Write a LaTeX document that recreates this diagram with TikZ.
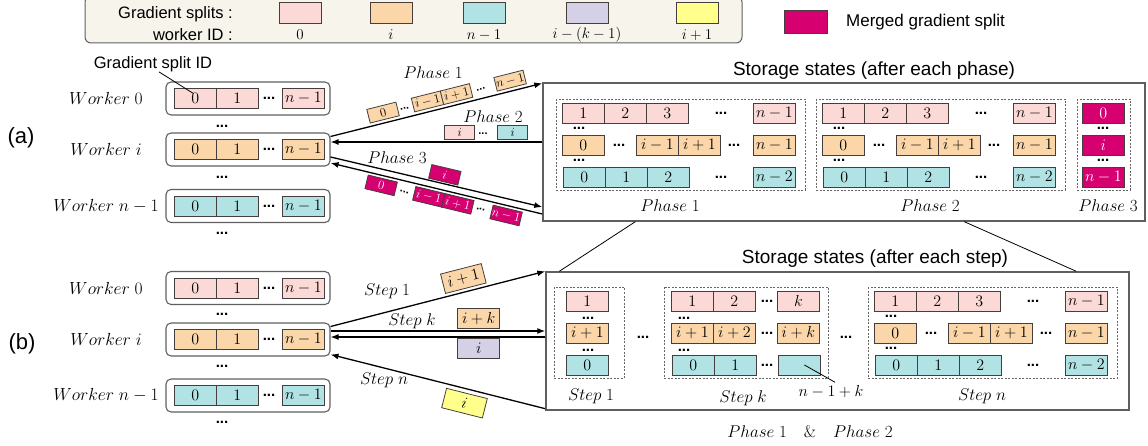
\RequirePackage{fix-cm}
\documentclass[tikz,border=0pt]{standalone}
\usepackage{fontspec}
\newfontfamily\sans{Liberation Sans}
\usetikzlibrary{arrows.meta}

\definecolor{pinkc}{RGB}{250,217,214}
\definecolor{orangec}{RGB}{250,214,168}
\definecolor{cyanc}{RGB}{177,227,229}
\definecolor{lavc}{RGB}{212,209,230}
\definecolor{yellowc}{RGB}{255,255,140}
\definecolor{magc}{RGB}{214,0,112}
\definecolor{legc}{RGB}{247,244,236}
\definecolor{bordc}{RGB}{70,62,60}
\definecolor{boxc}{RGB}{95,95,95}

\newcommand\fsz[1]{\fontsize{#1}{#1}\selectfont}

\tikzset{
  cell/.style={draw=bordc, line width=0.8pt, fill=#1, minimum width=42pt,
    minimum height=20pt, inner sep=0pt, anchor=west, font=\fsz{16}},
  sbit/.style={draw=bordc, line width=0.8pt, fill=#1, minimum width=30pt,
    minimum height=14pt, inner sep=0pt, font=\fsz{12.5}},
  mbit/.style={sbit=magc, text=white},
  wbox/.style={draw=boxc, line width=1.1pt, rounded corners=5pt,
    minimum width=164pt, minimum height=33pt},
  sbox/.style={draw=boxc, line width=1.4pt, minimum height=138pt},
  grp/.style={draw=black!60, line width=0.7pt, dash pattern=on 2pt off 1.5pt},
  dts/.style={font=\sans\bfseries\fsz{#1}, inner sep=0pt},
  dts/.default=15,
  lbl/.style={font=\fsz{17}},
  sf/.style={font=\sans\fsz{#1}, inner sep=0pt},
  arr/.style={line width=1.3pt, -{Latex[length=8pt,width=6pt]}},
  pointer/.style={line width=0.8pt},
}

% one storage state: x offset, y offset, name
\newcommand\fullstate[3]{%
  \draw[grp] (556+#1,99+#2) rectangle (805+#1,190+#2);
  \foreach \x/\tx [count=\i] in {562/1,604/2,646/3,753/n-1}
    \node[cell=pinkc] (#3p\i) at (\x+#1,113+#2) {$\tx$};
  \foreach \x/\tx [count=\i] in {562/0,636/i-1,678/i+1,753/n-1}
    \node[cell=orangec] (#3o\i) at (\x+#1,145+#2) {$\tx$};
  \foreach \x/\tx [count=\i] in {563/0,605/1,647/2,753/n-2}
    \node[cell=cyanc] (#3c\i) at (\x+#1,177+#2) {$\tx$};
  \foreach \x/\y [count=\i] in {721/113,619/145,734/145,721/177,579/128,579/160}
    \node[dts] (#3d\i) at (\x+#1,\y+#2) {...};
}

\begin{document}
\begin{tikzpicture}[x=1pt, y=-1pt]
\useasboundingbox (0,0) rectangle (1148,446);

% legend
\node[draw=boxc, fill=legc, line width=1pt, rounded corners=6pt,
  minimum width=657pt, minimum height=47pt] (leg) at (413.5,19.5) {};
\node[sf=16.5, anchor=east] (leg1) at (233,14) {Gradient splits :};
\node[sf=16.5, anchor=east] (leg2) at (233,35) {worker ID :};
\foreach \x/\cl/\tx [count=\i] in {300/pinkc/0, 391/orangec/i, 484/cyanc/n-1,
    587/lavc/i-(k-1), 697/yellowc/i+1} {
  \node[draw=bordc, fill=\cl, line width=0.8pt, minimum width=42pt,
    minimum height=21pt, inner sep=0pt] (sw\i) at (\x,13) {};
  \node[font=\fsz{15}] (swl\i) at (\x,35) {$\tx$};
}
\node[draw=bordc, fill=magc, line width=0.8pt, minimum width=43pt,
  minimum height=23pt, inner sep=0pt] (msw) at (806,21.5) {};
\node[sf=17, anchor=west] (mtxt) at (846,22) {Merged gradient split};

% (a) workers
\node[sf=22] (la) at (21,138) {(a)};
\foreach \y/\cl/\n/\w in {98.5/pinkc/0/0, 149.5/orangec/i/i, 206/cyanc/n/n-1} {
  \node[wbox] (wa\n) at (248,\y) {};
  \node[cell=\cl] (wa\n-0) at (174,\y) {$0$};
  \node[cell=\cl] (wa\n-1) at (216,\y) {$1$};
  \node[dts] (wa\n-d) at (269,\y) {...};
  \node[cell=\cl] (wa\n-l) at (282,\y) {$n-1$};
  \node[lbl, font=\fsz{17.5}] (wa\n-t) at (106,\y) {$Worker\;\w$};
}
\foreach \y [count=\i] in {126,177,233}
  \node[dts] (wad\i) at (222,\y) {...};
\node[sf=16.5] (gsid) at (153,64) {Gradient split ID};
\draw[pointer] ([xshift=6pt]gsid.south) -- ([xshift=-2pt,yshift=5pt]wa0-0.center);

% (b) workers
\node[sf=22] (lb) at (22,344) {(b)};
\foreach \y/\cl/\n/\w in {288/pinkc/0/0, 339.5/orangec/i/i, 395.5/cyanc/n/n-1} {
  \node[wbox] (wb\n) at (248,\y) {};
  \node[cell=\cl] (wb\n-0) at (174,\y) {$0$};
  \node[cell=\cl] (wb\n-1) at (216,\y) {$1$};
  \node[dts] (wb\n-d) at (269,\y) {...};
  \node[cell=\cl] (wb\n-l) at (282,\y) {$n-1$};
  \node[lbl, font=\fsz{17.5}] (wb\n-t) at (106,\y) {$Worker\;\w$};
}
\foreach \y [count=\i] in {314,366,422}
  \node[dts] (wbd\i) at (222,\y) {...};

% storage after each phase
\node[sbox, minimum width=602pt] (sa) at (844,152) {};
\node[sf=19] (sat) at (874,71) {Storage states (after each phase)};
\fullstate{0}{0}{sa1}
\fullstate{260}{0}{sa2}
\node[lbl] (sa1l) at (670,206) {$Phase\;1$};
\node[lbl] (sa2l) at (930,206) {$Phase\;2$};
\draw[grp] (1077,99) rectangle (1130,190);
\foreach \y/\tx [count=\i] in {113/0,145/i,177/n-1}
  \node[cell=magc, text=white] (sa3m\i) at (1082,\y) {$\tx$};
\node[dts] (sa3d1) at (1103,128) {...};
\node[dts] (sa3d2) at (1103,160) {...};
\node[lbl] (sa3l) at (1108,206) {$Phase\;3$};

% storage after each step
\node[sbox, minimum width=583pt] (sb) at (837.5,341) {};
\node[sf=19] (sbt) at (875,259) {Storage states (after each step)};
\draw[grp] (554,287) rectangle (624,378);
\node[cell=pinkc] (sb1p) at (566,301) {$1$};
\node[cell=orangec] (sb1o) at (566,333) {$i+1$};
\node[cell=cyanc] (sb1c) at (566,365) {$0$};
\node[dts] (sb1d1) at (588,318) {...};
\node[dts] (sb1d2) at (588,350) {...};
\node[lbl] (sb1l) at (591,396) {$Step\;1$};
\node[dts] (sbg1) at (643,337) {...};
\draw[grp] (664,287) rectangle (828,378);
\foreach \x/\tx [count=\i] in {671/1,713/2,777/k}
  \node[cell=pinkc] (sbkp\i) at (\x,301) {$\tx$};
\foreach \x/\tx [count=\i] in {671/i+1,713/i+2,777/i+k}
  \node[cell=orangec] (sbko\i) at (\x,333) {$\tx$};
\node[cell=cyanc] (sbkc1) at (672,365) {$0$};
\node[cell=cyanc] (sbkc2) at (714,365) {$1$};
\node[cell=cyanc] (sbkc3) at (778,365) {};
\foreach \y [count=\i] in {301,333,365}
  \node[dts] (sbkd\i) at (767,\y) {...};
\node[dts] (sbkd4) at (684,318) {...};
\node[dts] (sbkd5) at (684,350) {...};
\node[lbl] (sbkl) at (743,398) {$Step\;k$};
\node[font=\fsz{16}] (nk) at (831,392) {$n-1+k$};
\draw[pointer] ([xshift=5pt]sbkc3.center) -- ([xshift=4pt]nk.north);
\node[dts] (sbg2) at (846,337) {...};
\fullstate{312}{188}{sbn}
\node[lbl] (sbnl) at (982,396) {$Step\;n$};
\node[lbl] (pp) at (810,432) {$Phase\;1\quad\&\quad Phase\;2$};

% zoom lines
\draw[pointer] ([xshift=93pt]sa.south west) -- ([xshift=14pt]sb.north west);
\draw[pointer] ([xshift=422pt]sa.south west) -- ([xshift=531pt]sb.north west);

% phase arrows
\coordinate (p1a) at ([yshift=13pt]wai.east);
\coordinate (p1b) at ([yshift=-1pt]sa.north west);
\draw[arr] (p1a) -- (p1b);
\path (p1a) -- (p1b)
  node[sbit=orangec, pos=.26, sloped, above=3pt] (p1x1) {$0$}
  node[dts=11, pos=.36, sloped, above=8pt] (p1x2) {...}
  node[sbit=orangec, pos=.47, sloped, above=3pt] (p1x3) {$i-1$}
  node[sbit=orangec, pos=.607, sloped, above=3pt] (p1x4) {$i+1$}
  node[dts=11, pos=.72, sloped, above=8pt] (p1x5) {...}
  node[sbit=orangec, pos=.86, sloped, above=3pt] (p1x6) {$n-1$};
\node[lbl] (p1l) at (433,73) {$Phase\;1$};

\coordinate (p2a) at ([yshift=10pt]sa.west);
\coordinate (p2b) at ([yshift=7.5pt]wai.east);
\draw[arr] (p2a) -- (p2b);
\path (p2b) -- (p2a)
  node[sbit=pinkc, pos=.61, above=2pt] (p2x1) {$i$}
  node[dts=11, pos=.72, above=7pt] (p2x2) {...}
  node[sbit=cyanc, pos=.86, above=2pt] (p2x3) {$i$};
\node[lbl] (p2l) at (493,117) {$Phase\;2$};

\coordinate (p3a) at ([yshift=-7.5pt]wai.east);
\coordinate (p3b) at ([yshift=-55pt]sa.west);
\coordinate (p3c) at ([yshift=-62pt]sa.west);
\coordinate (p3d) at ([yshift=-13.5pt]wai.east);
\draw[arr] (p3a) -- (p3b);
\draw[arr] (p3c) -- (p3d);
\path (p3a) -- (p3b)
  node[mbit, pos=.53, sloped, above=1.5pt] (p3x0) {$i$};
\path (p3d) -- (p3c)
  node[mbit, pos=.25, sloped, below=2.5pt] (p3x1) {$0$}
  node[dts=11, pos=.36, sloped, below=10pt] (p3x2) {...}
  node[mbit, pos=.475, sloped, below=2.5pt] (p3x3) {$i-1$}
  node[mbit, pos=.612, sloped, below=2.5pt] (p3x4) {$i+1$}
  node[dts=11, pos=.72, sloped, below=9pt] (p3x5) {...}
  node[mbit, pos=.84, sloped, below=2.5pt] (p3x6) {$n-1$};
\node[lbl] (p3l) at (397,158) {$Phase\;3$};

% step arrows
\coordinate (s1a) at ([yshift=13pt]wbi.east);
\coordinate (s1b) at (sb.north west);
\draw[arr] (s1a) -- (s1b);
\path (s1a) -- (s1b)
  node[cell=orangec, pos=.634, sloped, above=3pt] (s1x) {$i+1$};
\node[lbl] (s1l) at (387,291) {$Step\;1$};

\coordinate (ska) at ([yshift=8.5pt]wbi.east);
\coordinate (skb) at ([yshift=10pt]sb.west);
\coordinate (skc) at ([yshift=4pt]sb.west);
\coordinate (skd) at ([yshift=2.5pt]wbi.east);
\draw[arr] (ska) -- (skb);
\draw[arr] (skc) -- (skd);
\path (ska) -- (skb)
  node[cell=orangec, pos=.69, above=2pt] (skx1) {$i+k$};
\path (skd) -- (skc)
  node[cell=lavc, pos=.69, below=1pt] (skx2) {$i$};
\node[lbl] (skl) at (412,321) {$Step\;k$};

\coordinate (sna) at ([yshift=2pt]sb.south west);
\coordinate (snb) at ([yshift=-15pt]wbi.east);
\draw[arr] (sna) -- (snb);
\path (snb) -- (sna)
  node[cell=yellowc, pos=.64, sloped, below=4pt] (snx) {$i$};
\node[lbl] (snl) at (384,380) {$Step\;n$};
\end{tikzpicture}
\end{document}
